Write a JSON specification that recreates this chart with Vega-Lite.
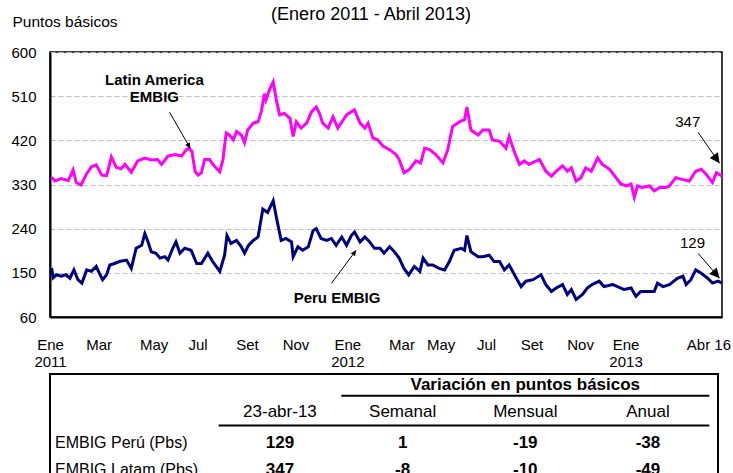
{
  "$schema": "https://vega.github.io/schema/vega-lite/v6.json",
  "padding": {"left": 10, "top": 5, "right": 2, "bottom": 0},
  "spacing": 3,
  "background": "white",
  "config": {"font": "Liberation Sans", "view": {"stroke": null}},
  "datasets": {
    "embig": [
      {"date":"2011-01-03","series":"Latin America EMBIG","value":345},
      {"date":"2011-01-07","series":"Latin America EMBIG","value":337},
      {"date":"2011-01-15","series":"Latin America EMBIG","value":342},
      {"date":"2011-01-24","series":"Latin America EMBIG","value":338},
      {"date":"2011-01-30","series":"Latin America EMBIG","value":360},
      {"date":"2011-02-03","series":"Latin America EMBIG","value":334},
      {"date":"2011-02-09","series":"Latin America EMBIG","value":329},
      {"date":"2011-02-16","series":"Latin America EMBIG","value":352},
      {"date":"2011-02-22","series":"Latin America EMBIG","value":366},
      {"date":"2011-02-28","series":"Latin America EMBIG","value":370},
      {"date":"2011-03-07","series":"Latin America EMBIG","value":349},
      {"date":"2011-03-13","series":"Latin America EMBIG","value":348},
      {"date":"2011-03-19","series":"Latin America EMBIG","value":386},
      {"date":"2011-03-25","series":"Latin America EMBIG","value":365},
      {"date":"2011-03-31","series":"Latin America EMBIG","value":362},
      {"date":"2011-04-05","series":"Latin America EMBIG","value":371},
      {"date":"2011-04-13","series":"Latin America EMBIG","value":355},
      {"date":"2011-04-21","series":"Latin America EMBIG","value":378},
      {"date":"2011-04-30","series":"Latin America EMBIG","value":384},
      {"date":"2011-05-08","series":"Latin America EMBIG","value":380},
      {"date":"2011-05-16","series":"Latin America EMBIG","value":381},
      {"date":"2011-05-21","series":"Latin America EMBIG","value":371},
      {"date":"2011-05-29","series":"Latin America EMBIG","value":388},
      {"date":"2011-06-07","series":"Latin America EMBIG","value":391},
      {"date":"2011-06-15","series":"Latin America EMBIG","value":388},
      {"date":"2011-06-21","series":"Latin America EMBIG","value":401},
      {"date":"2011-06-24","series":"Latin America EMBIG","value":404},
      {"date":"2011-06-28","series":"Latin America EMBIG","value":398},
      {"date":"2011-07-02","series":"Latin America EMBIG","value":357},
      {"date":"2011-07-06","series":"Latin America EMBIG","value":349},
      {"date":"2011-07-10","series":"Latin America EMBIG","value":354},
      {"date":"2011-07-14","series":"Latin America EMBIG","value":381},
      {"date":"2011-07-20","series":"Latin America EMBIG","value":381},
      {"date":"2011-07-27","series":"Latin America EMBIG","value":366},
      {"date":"2011-08-02","series":"Latin America EMBIG","value":356},
      {"date":"2011-08-06","series":"Latin America EMBIG","value":381},
      {"date":"2011-08-10","series":"Latin America EMBIG","value":435},
      {"date":"2011-08-14","series":"Latin America EMBIG","value":431},
      {"date":"2011-08-19","series":"Latin America EMBIG","value":421},
      {"date":"2011-08-23","series":"Latin America EMBIG","value":438},
      {"date":"2011-08-29","series":"Latin America EMBIG","value":431},
      {"date":"2011-09-02","series":"Latin America EMBIG","value":415},
      {"date":"2011-09-06","series":"Latin America EMBIG","value":441},
      {"date":"2011-09-13","series":"Latin America EMBIG","value":455},
      {"date":"2011-09-19","series":"Latin America EMBIG","value":458},
      {"date":"2011-09-23","series":"Latin America EMBIG","value":478},
      {"date":"2011-09-27","series":"Latin America EMBIG","value":515},
      {"date":"2011-09-29","series":"Latin America EMBIG","value":502},
      {"date":"2011-10-03","series":"Latin America EMBIG","value":522},
      {"date":"2011-10-08","series":"Latin America EMBIG","value":539},
      {"date":"2011-10-12","series":"Latin America EMBIG","value":502},
      {"date":"2011-10-16","series":"Latin America EMBIG","value":472},
      {"date":"2011-10-22","series":"Latin America EMBIG","value":475},
      {"date":"2011-10-29","series":"Latin America EMBIG","value":465},
      {"date":"2011-11-02","series":"Latin America EMBIG","value":428},
      {"date":"2011-11-06","series":"Latin America EMBIG","value":458},
      {"date":"2011-11-12","series":"Latin America EMBIG","value":445},
      {"date":"2011-11-19","series":"Latin America EMBIG","value":455},
      {"date":"2011-11-25","series":"Latin America EMBIG","value":478},
      {"date":"2011-12-01","series":"Latin America EMBIG","value":488},
      {"date":"2011-12-05","series":"Latin America EMBIG","value":475},
      {"date":"2011-12-09","series":"Latin America EMBIG","value":455},
      {"date":"2011-12-16","series":"Latin America EMBIG","value":445},
      {"date":"2011-12-22","series":"Latin America EMBIG","value":468},
      {"date":"2011-12-28","series":"Latin America EMBIG","value":445},
      {"date":"2012-01-04","series":"Latin America EMBIG","value":462},
      {"date":"2012-01-08","series":"Latin America EMBIG","value":472},
      {"date":"2012-01-14","series":"Latin America EMBIG","value":478},
      {"date":"2012-01-18","series":"Latin America EMBIG","value":482},
      {"date":"2012-01-25","series":"Latin America EMBIG","value":455},
      {"date":"2012-01-31","series":"Latin America EMBIG","value":445},
      {"date":"2012-02-04","series":"Latin America EMBIG","value":455},
      {"date":"2012-02-10","series":"Latin America EMBIG","value":425},
      {"date":"2012-02-16","series":"Latin America EMBIG","value":421},
      {"date":"2012-02-23","series":"Latin America EMBIG","value":408},
      {"date":"2012-03-02","series":"Latin America EMBIG","value":401},
      {"date":"2012-03-10","series":"Latin America EMBIG","value":391},
      {"date":"2012-03-14","series":"Latin America EMBIG","value":381},
      {"date":"2012-03-20","series":"Latin America EMBIG","value":354},
      {"date":"2012-03-27","series":"Latin America EMBIG","value":361},
      {"date":"2012-04-04","series":"Latin America EMBIG","value":378},
      {"date":"2012-04-10","series":"Latin America EMBIG","value":374},
      {"date":"2012-04-15","series":"Latin America EMBIG","value":404},
      {"date":"2012-04-21","series":"Latin America EMBIG","value":401},
      {"date":"2012-04-29","series":"Latin America EMBIG","value":391},
      {"date":"2012-05-08","series":"Latin America EMBIG","value":374},
      {"date":"2012-05-14","series":"Latin America EMBIG","value":401},
      {"date":"2012-05-20","series":"Latin America EMBIG","value":448},
      {"date":"2012-05-29","series":"Latin America EMBIG","value":458},
      {"date":"2012-06-04","series":"Latin America EMBIG","value":462},
      {"date":"2012-06-07","series":"Latin America EMBIG","value":488},
      {"date":"2012-06-12","series":"Latin America EMBIG","value":441},
      {"date":"2012-06-21","series":"Latin America EMBIG","value":431},
      {"date":"2012-06-27","series":"Latin America EMBIG","value":441},
      {"date":"2012-07-05","series":"Latin America EMBIG","value":441},
      {"date":"2012-07-09","series":"Latin America EMBIG","value":421},
      {"date":"2012-07-18","series":"Latin America EMBIG","value":418},
      {"date":"2012-07-26","series":"Latin America EMBIG","value":404},
      {"date":"2012-07-30","series":"Latin America EMBIG","value":428},
      {"date":"2012-08-06","series":"Latin America EMBIG","value":394},
      {"date":"2012-08-12","series":"Latin America EMBIG","value":371},
      {"date":"2012-08-18","series":"Latin America EMBIG","value":378},
      {"date":"2012-08-24","series":"Latin America EMBIG","value":371},
      {"date":"2012-09-06","series":"Latin America EMBIG","value":381},
      {"date":"2012-09-14","series":"Latin America EMBIG","value":357},
      {"date":"2012-09-21","series":"Latin America EMBIG","value":347},
      {"date":"2012-09-27","series":"Latin America EMBIG","value":357},
      {"date":"2012-10-05","series":"Latin America EMBIG","value":368},
      {"date":"2012-10-11","series":"Latin America EMBIG","value":357},
      {"date":"2012-10-16","series":"Latin America EMBIG","value":364},
      {"date":"2012-10-22","series":"Latin America EMBIG","value":337},
      {"date":"2012-10-28","series":"Latin America EMBIG","value":344},
      {"date":"2012-11-03","series":"Latin America EMBIG","value":364},
      {"date":"2012-11-10","series":"Latin America EMBIG","value":357},
      {"date":"2012-11-18","series":"Latin America EMBIG","value":384},
      {"date":"2012-11-24","series":"Latin America EMBIG","value":371},
      {"date":"2012-12-03","series":"Latin America EMBIG","value":361},
      {"date":"2012-12-11","series":"Latin America EMBIG","value":344},
      {"date":"2012-12-17","series":"Latin America EMBIG","value":331},
      {"date":"2012-12-24","series":"Latin America EMBIG","value":327},
      {"date":"2012-12-30","series":"Latin America EMBIG","value":331},
      {"date":"2013-01-03","series":"Latin America EMBIG","value":304},
      {"date":"2013-01-07","series":"Latin America EMBIG","value":327},
      {"date":"2013-01-13","series":"Latin America EMBIG","value":324},
      {"date":"2013-01-22","series":"Latin America EMBIG","value":327},
      {"date":"2013-01-28","series":"Latin America EMBIG","value":317},
      {"date":"2013-02-04","series":"Latin America EMBIG","value":324},
      {"date":"2013-02-12","series":"Latin America EMBIG","value":324},
      {"date":"2013-02-16","series":"Latin America EMBIG","value":327},
      {"date":"2013-02-24","series":"Latin America EMBIG","value":344},
      {"date":"2013-03-05","series":"Latin America EMBIG","value":340},
      {"date":"2013-03-13","series":"Latin America EMBIG","value":337},
      {"date":"2013-03-21","series":"Latin America EMBIG","value":357},
      {"date":"2013-03-28","series":"Latin America EMBIG","value":361},
      {"date":"2013-04-03","series":"Latin America EMBIG","value":351},
      {"date":"2013-04-11","series":"Latin America EMBIG","value":334},
      {"date":"2013-04-16","series":"Latin America EMBIG","value":354},
      {"date":"2013-04-23","series":"Latin America EMBIG","value":347},
      {"date":"2011-01-03","series":"Peru EMBIG","value":160},
      {"date":"2011-01-05","series":"Peru EMBIG","value":140},
      {"date":"2011-01-09","series":"Peru EMBIG","value":146},
      {"date":"2011-01-15","series":"Peru EMBIG","value":143},
      {"date":"2011-01-21","series":"Peru EMBIG","value":146},
      {"date":"2011-01-26","series":"Peru EMBIG","value":139},
      {"date":"2011-01-31","series":"Peru EMBIG","value":156},
      {"date":"2011-02-05","series":"Peru EMBIG","value":136},
      {"date":"2011-02-10","series":"Peru EMBIG","value":129},
      {"date":"2011-02-16","series":"Peru EMBIG","value":156},
      {"date":"2011-02-22","series":"Peru EMBIG","value":153},
      {"date":"2011-02-28","series":"Peru EMBIG","value":163},
      {"date":"2011-03-04","series":"Peru EMBIG","value":149},
      {"date":"2011-03-08","series":"Peru EMBIG","value":136},
      {"date":"2011-03-13","series":"Peru EMBIG","value":146},
      {"date":"2011-03-17","series":"Peru EMBIG","value":166},
      {"date":"2011-03-23","series":"Peru EMBIG","value":169},
      {"date":"2011-03-29","series":"Peru EMBIG","value":173},
      {"date":"2011-04-07","series":"Peru EMBIG","value":176},
      {"date":"2011-04-13","series":"Peru EMBIG","value":159},
      {"date":"2011-04-19","series":"Peru EMBIG","value":200},
      {"date":"2011-04-26","series":"Peru EMBIG","value":206},
      {"date":"2011-04-30","series":"Peru EMBIG","value":230},
      {"date":"2011-05-04","series":"Peru EMBIG","value":213},
      {"date":"2011-05-08","series":"Peru EMBIG","value":193},
      {"date":"2011-05-14","series":"Peru EMBIG","value":190},
      {"date":"2011-05-19","series":"Peru EMBIG","value":180},
      {"date":"2011-05-25","series":"Peru EMBIG","value":183},
      {"date":"2011-05-29","series":"Peru EMBIG","value":176},
      {"date":"2011-06-04","series":"Peru EMBIG","value":200},
      {"date":"2011-06-08","series":"Peru EMBIG","value":213},
      {"date":"2011-06-13","series":"Peru EMBIG","value":190},
      {"date":"2011-06-19","series":"Peru EMBIG","value":200},
      {"date":"2011-06-27","series":"Peru EMBIG","value":196},
      {"date":"2011-07-04","series":"Peru EMBIG","value":169},
      {"date":"2011-07-10","series":"Peru EMBIG","value":169},
      {"date":"2011-07-18","series":"Peru EMBIG","value":190},
      {"date":"2011-07-24","series":"Peru EMBIG","value":173},
      {"date":"2011-08-02","series":"Peru EMBIG","value":153},
      {"date":"2011-08-08","series":"Peru EMBIG","value":186},
      {"date":"2011-08-11","series":"Peru EMBIG","value":226},
      {"date":"2011-08-16","series":"Peru EMBIG","value":210},
      {"date":"2011-08-23","series":"Peru EMBIG","value":216},
      {"date":"2011-08-29","series":"Peru EMBIG","value":203},
      {"date":"2011-09-02","series":"Peru EMBIG","value":190},
      {"date":"2011-09-07","series":"Peru EMBIG","value":206},
      {"date":"2011-09-13","series":"Peru EMBIG","value":216},
      {"date":"2011-09-19","series":"Peru EMBIG","value":223},
      {"date":"2011-09-25","series":"Peru EMBIG","value":280},
      {"date":"2011-10-01","series":"Peru EMBIG","value":273},
      {"date":"2011-10-08","series":"Peru EMBIG","value":297},
      {"date":"2011-10-12","series":"Peru EMBIG","value":263},
      {"date":"2011-10-18","series":"Peru EMBIG","value":216},
      {"date":"2011-10-24","series":"Peru EMBIG","value":220},
      {"date":"2011-10-31","series":"Peru EMBIG","value":213},
      {"date":"2011-11-02","series":"Peru EMBIG","value":183},
      {"date":"2011-11-08","series":"Peru EMBIG","value":203},
      {"date":"2011-11-14","series":"Peru EMBIG","value":196},
      {"date":"2011-11-21","series":"Peru EMBIG","value":203},
      {"date":"2011-11-27","series":"Peru EMBIG","value":236},
      {"date":"2011-12-01","series":"Peru EMBIG","value":240},
      {"date":"2011-12-07","series":"Peru EMBIG","value":220},
      {"date":"2011-12-14","series":"Peru EMBIG","value":216},
      {"date":"2011-12-20","series":"Peru EMBIG","value":220},
      {"date":"2011-12-26","series":"Peru EMBIG","value":206},
      {"date":"2012-01-02","series":"Peru EMBIG","value":223},
      {"date":"2012-01-08","series":"Peru EMBIG","value":206},
      {"date":"2012-01-14","series":"Peru EMBIG","value":226},
      {"date":"2012-01-18","series":"Peru EMBIG","value":233},
      {"date":"2012-01-25","series":"Peru EMBIG","value":213},
      {"date":"2012-01-31","series":"Peru EMBIG","value":223},
      {"date":"2012-02-06","series":"Peru EMBIG","value":213},
      {"date":"2012-02-12","series":"Peru EMBIG","value":200},
      {"date":"2012-02-19","series":"Peru EMBIG","value":200},
      {"date":"2012-02-24","series":"Peru EMBIG","value":190},
      {"date":"2012-03-02","series":"Peru EMBIG","value":203},
      {"date":"2012-03-08","series":"Peru EMBIG","value":193},
      {"date":"2012-03-14","series":"Peru EMBIG","value":180},
      {"date":"2012-03-20","series":"Peru EMBIG","value":159},
      {"date":"2012-03-26","series":"Peru EMBIG","value":146},
      {"date":"2012-04-02","series":"Peru EMBIG","value":163},
      {"date":"2012-04-09","series":"Peru EMBIG","value":153},
      {"date":"2012-04-13","series":"Peru EMBIG","value":180},
      {"date":"2012-04-19","series":"Peru EMBIG","value":166},
      {"date":"2012-04-25","series":"Peru EMBIG","value":166},
      {"date":"2012-05-03","series":"Peru EMBIG","value":159},
      {"date":"2012-05-10","series":"Peru EMBIG","value":156},
      {"date":"2012-05-16","series":"Peru EMBIG","value":173},
      {"date":"2012-05-22","series":"Peru EMBIG","value":196},
      {"date":"2012-05-31","series":"Peru EMBIG","value":200},
      {"date":"2012-06-04","series":"Peru EMBIG","value":196},
      {"date":"2012-06-07","series":"Peru EMBIG","value":226},
      {"date":"2012-06-12","series":"Peru EMBIG","value":193},
      {"date":"2012-06-21","series":"Peru EMBIG","value":183},
      {"date":"2012-06-27","series":"Peru EMBIG","value":183},
      {"date":"2012-07-05","series":"Peru EMBIG","value":186},
      {"date":"2012-07-11","series":"Peru EMBIG","value":173},
      {"date":"2012-07-18","series":"Peru EMBIG","value":173},
      {"date":"2012-07-24","series":"Peru EMBIG","value":156},
      {"date":"2012-07-30","series":"Peru EMBIG","value":166},
      {"date":"2012-08-08","series":"Peru EMBIG","value":139},
      {"date":"2012-08-14","series":"Peru EMBIG","value":122},
      {"date":"2012-08-20","series":"Peru EMBIG","value":133},
      {"date":"2012-08-29","series":"Peru EMBIG","value":136},
      {"date":"2012-09-08","series":"Peru EMBIG","value":146},
      {"date":"2012-09-14","series":"Peru EMBIG","value":126},
      {"date":"2012-09-21","series":"Peru EMBIG","value":112},
      {"date":"2012-09-27","series":"Peru EMBIG","value":119},
      {"date":"2012-10-05","series":"Peru EMBIG","value":126},
      {"date":"2012-10-11","series":"Peru EMBIG","value":106},
      {"date":"2012-10-16","series":"Peru EMBIG","value":116},
      {"date":"2012-10-22","series":"Peru EMBIG","value":96},
      {"date":"2012-10-30","series":"Peru EMBIG","value":106},
      {"date":"2012-11-05","series":"Peru EMBIG","value":119},
      {"date":"2012-11-11","series":"Peru EMBIG","value":126},
      {"date":"2012-11-20","series":"Peru EMBIG","value":133},
      {"date":"2012-11-26","series":"Peru EMBIG","value":122},
      {"date":"2012-12-07","series":"Peru EMBIG","value":126},
      {"date":"2012-12-13","series":"Peru EMBIG","value":122},
      {"date":"2012-12-21","series":"Peru EMBIG","value":116},
      {"date":"2012-12-30","series":"Peru EMBIG","value":119},
      {"date":"2013-01-05","series":"Peru EMBIG","value":102},
      {"date":"2013-01-11","series":"Peru EMBIG","value":112},
      {"date":"2013-01-22","series":"Peru EMBIG","value":112},
      {"date":"2013-01-28","series":"Peru EMBIG","value":112},
      {"date":"2013-02-01","series":"Peru EMBIG","value":129},
      {"date":"2013-02-08","series":"Peru EMBIG","value":122},
      {"date":"2013-02-16","series":"Peru EMBIG","value":126},
      {"date":"2013-02-26","series":"Peru EMBIG","value":139},
      {"date":"2013-03-05","series":"Peru EMBIG","value":143},
      {"date":"2013-03-09","series":"Peru EMBIG","value":126},
      {"date":"2013-03-15","series":"Peru EMBIG","value":136},
      {"date":"2013-03-21","series":"Peru EMBIG","value":156},
      {"date":"2013-03-28","series":"Peru EMBIG","value":149},
      {"date":"2013-04-05","series":"Peru EMBIG","value":139},
      {"date":"2013-04-11","series":"Peru EMBIG","value":129},
      {"date":"2013-04-18","series":"Peru EMBIG","value":133},
      {"date":"2013-04-23","series":"Peru EMBIG","value":129}
    ],
    "notas": [
      {"tipo":"serie","date":"2011-05-12","value":542,"label":"Latin America\nEMBIG"},
      {"tipo":"serie","date":"2011-12-27","value":98,"label":"Peru  EMBIG"},
      {"tipo":"valor","date":"2013-03-11","value":457,"label":"347"},
      {"tipo":"valor","date":"2013-03-17","value":210,"label":"129"}
    ],
    "flechas": [
      {"nota":"latam","date":"2011-06-26","value":403.8,"date2":"2011-05-31","value2":477.1},
      {"nota":"peru","date":"2012-01-20","value":195.9,"date2":"2011-12-20","value2":128.7},
      {"nota":"347","date":"2013-04-20","value":373.2,"date2":"2013-03-24","value2":436.4},
      {"nota":"129","date":"2013-04-20","value":138.9,"date2":"2013-03-24","value2":189.8}
    ],
    "tabla": [
      {"kind":"titulo","row":"titulo","col":"Mensual","text":"Variación en puntos básicos"},
      {"kind":"encabezado","row":"encabezado","col":"23-abr-13","text":"23-abr-13"},
      {"kind":"encabezado","row":"encabezado","col":"Semanal","text":"Semanal"},
      {"kind":"encabezado","row":"encabezado","col":"Mensual","text":"Mensual"},
      {"kind":"encabezado","row":"encabezado","col":"Anual","text":"Anual"},
      {"kind":"etiqueta","row":"Perú","col":"23-abr-13","text":"EMBIG Perú (Pbs)"},
      {"kind":"etiqueta","row":"Latam","col":"23-abr-13","text":"EMBIG Latam (Pbs)"},
      {"kind":"valor","row":"Perú","col":"23-abr-13","text":"129"},
      {"kind":"valor","row":"Perú","col":"Semanal","text":"1"},
      {"kind":"valor","row":"Perú","col":"Mensual","text":"-19"},
      {"kind":"valor","row":"Perú","col":"Anual","text":"-38"},
      {"kind":"valor","row":"Latam","col":"23-abr-13","text":"347"},
      {"kind":"valor","row":"Latam","col":"Semanal","text":"-8"},
      {"kind":"valor","row":"Latam","col":"Mensual","text":"-10"},
      {"kind":"valor","row":"Latam","col":"Anual","text":"-49"},
      {"kind":"linea_t","row":"titulo","col":"Semanal","hasta":"Anual"},
      {"kind":"linea_e","row":"encabezado","col":"23-abr-13","hasta":"Anual"}
    ]
  },
  "vconcat": [
    {
      "width": 672,
      "height": 265,
      "view": {"stroke": "black", "strokeWidth": 1.5},
      "title": {"text": "(Enero 2011 - Abril 2013)", "fontSize": 18, "fontWeight": "normal", "font": "Liberation Sans", "color": "black", "anchor": "middle", "dx": -15, "offset": -10},
      "encoding": {
        "x": {
          "field": "date", "type": "temporal",
          "scale": {"type": "utc", "domain": [{"year": 2011, "month": 1, "date": 1, "utc": true}, {"year": 2013, "month": 4, "date": 23, "utc": true}]},
          "axis": {
            "title": null,
            "values": [
              {"year": 2011, "month": 1, "date": 1, "utc": true},
              {"year": 2011, "month": 3, "date": 3, "utc": true},
              {"year": 2011, "month": 5, "date": 11, "utc": true},
              {"year": 2011, "month": 7, "date": 5, "utc": true},
              {"year": 2011, "month": 9, "date": 5, "utc": true},
              {"year": 2011, "month": 11, "date": 5, "utc": true},
              {"year": 2012, "month": 1, "date": 9, "utc": true},
              {"year": 2012, "month": 3, "date": 17, "utc": true},
              {"year": 2012, "month": 5, "date": 5, "utc": true},
              {"year": 2012, "month": 7, "date": 1, "utc": true},
              {"year": 2012, "month": 8, "date": 27, "utc": true},
              {"year": 2012, "month": 10, "date": 27, "utc": true},
              {"year": 2012, "month": 12, "date": 23, "utc": true},
              {"year": 2013, "month": 4, "date": 6, "utc": true}
            ],
            "labelExpr": "utcmonth(datum.value)==0 ? ['Ene', utcFormat(datum.value,'%Y')] : utcmonth(datum.value)==11 ? ['Ene','2013'] : utcmonth(datum.value)==3 ? 'Abr 16' : ['Ene','Feb','Mar','Abr','May','Jun','Jul','Set','Set','Nov','Nov','Dic'][utcmonth(datum.value)]",
            "labelFlush": false,
            "labelOverlap": false,
            "labelBound": false,
            "labelFont": "Liberation Sans",
            "labelFontSize": 15,
            "labelColor": "black",
            "labelLineHeight": 17,
            "labelPadding": 20,
            "ticks": false,
            "tickSize": 0,
            "domainColor": "black",
            "domainWidth": 2,
            "grid": false
          }
        },
        "y": {
          "field": "value", "type": "quantitative",
          "scale": {"domain": [60, 600], "nice": false, "zero": false},
          "axis": {
            "title": "Puntos básicos",
            "titleAngle": 0, "titleAlign": "left", "titleBaseline": "middle",
            "titleX": -38, "titleY": -31,
            "titleFont": "Liberation Sans", "titleFontSize": 15.5, "titleFontWeight": "normal", "titleColor": "black",
            "values": [60, 150, 240, 330, 420, 510, 600],
            "labelFont": "Liberation Sans", "labelFontSize": 15, "labelColor": "black", "labelPadding": 14,
            "ticks": false, "tickSize": 0,
            "domainColor": "black", "domainWidth": 2,
            "grid": true, "gridColor": "#BDBDBD", "gridDash": [5, 3], "gridWidth": 1
          }
        }
      },
      "layer": [
        {
          "data": {"name": "embig"},
          "mark": {"type": "line", "strokeWidth": 3},
          "encoding": {
            "color": {"field": "series", "type": "nominal", "scale": {"domain": ["Latin America EMBIG", "Peru EMBIG"], "range": ["#FF00FF", "#000080"]}, "legend": null}
          }
        },
        {
          "data": {"name": "flechas"},
          "mark": {"type": "rule", "color": "black", "strokeWidth": 1},
          "encoding": {"x2": {"field": "date2"}, "y2": {"field": "value2"}}
        },
        {
          "data": {"name": "flechas"},
          "transform": [{"filter": "datum.nota == 'latam'"}],
          "mark": {"type": "point", "shape": "M0,0L-1,2L1,2Z", "size": 30, "angle": 149.7, "filled": true, "color": "black", "opacity": 1, "strokeWidth": 0}
        },
        {
          "data": {"name": "flechas"},
          "transform": [{"filter": "datum.nota == 'peru'"}],
          "mark": {"type": "point", "shape": "M0,0L-1,2L1,2Z", "size": 30, "angle": 36, "filled": true, "color": "black", "opacity": 1, "strokeWidth": 0}
        },
        {
          "data": {"name": "flechas"},
          "transform": [{"filter": "datum.nota == '347'"}],
          "mark": {"type": "point", "shape": "M0,0L-1,2L1,2Z", "size": 100, "angle": 144.6, "filled": true, "color": "black", "opacity": 1, "strokeWidth": 0}
        },
        {
          "data": {"name": "flechas"},
          "transform": [{"filter": "datum.nota == '129'"}],
          "mark": {"type": "point", "shape": "M0,0L-1,2L1,2Z", "size": 100, "angle": 138.7, "filled": true, "color": "black", "opacity": 1, "strokeWidth": 0}
        },
        {
          "data": {"name": "notas"},
          "transform": [{"filter": "datum.tipo == 'serie'"}],
          "mark": {"type": "text", "font": "Liberation Sans", "fontWeight": "bold", "fontSize": 15, "lineBreak": "\n", "lineHeight": 17, "color": "black", "align": "center", "baseline": "middle"},
          "encoding": {"text": {"field": "label"}}
        },
        {
          "data": {"name": "notas"},
          "transform": [{"filter": "datum.tipo == 'valor'"}],
          "mark": {"type": "text", "font": "Liberation Sans", "fontSize": 15, "color": "black", "align": "center", "baseline": "middle"},
          "encoding": {"text": {"field": "label"}}
        }
      ]
    },
    {
      "width": 668,
      "height": 110,
      "view": {"stroke": "black", "strokeWidth": 2},
      "data": {"name": "tabla"},
      "encoding": {
        "x": {"field": "col", "type": "nominal", "scale": {"type": "band", "domain": ["23-abr-13", "Semanal", "Mensual", "Anual"], "range": [168.6, 659.3], "paddingInner": 0, "paddingOuter": 0}, "axis": null},
        "y": {"field": "row", "type": "nominal", "scale": {"type": "band", "domain": ["titulo", "encabezado", "Perú", "Latam"], "range": [-2.5, 105.5], "paddingInner": 0, "paddingOuter": 0}, "axis": null}
      },
      "layer": [
        {
          "transform": [{"filter": "datum.kind == 'titulo'"}],
          "mark": {"type": "text", "font": "Liberation Sans", "fontSize": 17, "fontWeight": "bold", "color": "black", "baseline": "middle"},
          "encoding": {"text": {"field": "text"}}
        },
        {
          "transform": [{"filter": "datum.kind == 'encabezado'"}],
          "mark": {"type": "text", "font": "Liberation Sans", "fontSize": 17, "color": "black", "baseline": "middle"},
          "encoding": {"text": {"field": "text"}}
        },
        {
          "transform": [{"filter": "datum.kind == 'valor'"}],
          "mark": {"type": "text", "font": "Liberation Sans", "fontSize": 17, "fontWeight": "bold", "color": "black", "baseline": "middle", "dy": 4},
          "encoding": {"text": {"field": "text"}}
        },
        {
          "transform": [{"filter": "datum.kind == 'etiqueta'"}],
          "mark": {"type": "text", "font": "Liberation Sans", "fontSize": 16, "color": "black", "align": "left", "baseline": "middle", "dx": -163.6, "dy": 4},
          "encoding": {
            "x": {"field": "col", "type": "nominal", "bandPosition": 0, "axis": null},
            "text": {"field": "text"}
          }
        },
        {
          "transform": [{"filter": "datum.kind == 'linea_t'"}],
          "mark": {"type": "rule", "color": "black", "strokeWidth": 2},
          "encoding": {
            "x": {"field": "col", "type": "nominal", "bandPosition": 0, "axis": null},
            "x2": {"field": "hasta", "bandPosition": 1},
            "y": {"field": "row", "type": "nominal", "bandPosition": 0.9, "axis": null}
          }
        },
        {
          "transform": [{"filter": "datum.kind == 'linea_e'"}],
          "mark": {"type": "rule", "color": "black", "strokeWidth": 2},
          "encoding": {
            "x": {"field": "col", "type": "nominal", "bandPosition": 0, "axis": null},
            "x2": {"field": "hasta", "bandPosition": 1},
            "y": {"field": "row", "type": "nominal", "bandPosition": 1, "axis": null}
          }
        }
      ]
    }
  ]
}
